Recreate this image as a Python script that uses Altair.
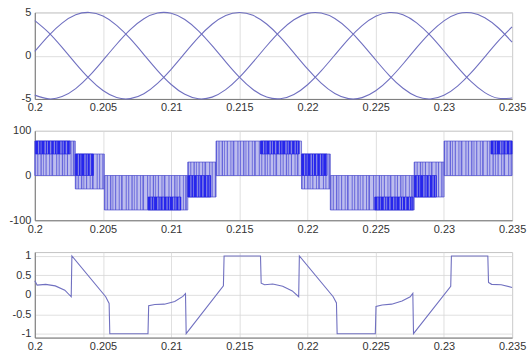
import altair as alt
import pandas as pd

# ---------------- data ----------------
x_ticks = [0.2, 0.205, 0.21, 0.215, 0.22, 0.225, 0.23, 0.235]

# panel 1: three phase voltages, sampled every 1 ms
time_1 = [0.200, 0.201, 0.202, 0.203, 0.204, 0.205, 0.206, 0.207, 0.208, 0.209,
          0.210, 0.211, 0.212, 0.213, 0.214, 0.215, 0.216, 0.217, 0.218, 0.219,
          0.220, 0.221, 0.222, 0.223, 0.224, 0.225, 0.226, 0.227, 0.228, 0.229,
          0.230, 0.231, 0.232, 0.233, 0.234, 0.235]
phase_a = [0.50, 2.30, 3.77, 4.72, 5.00, 4.58, 3.51, 1.96, 0.13, -1.72,
           -3.33, -4.47, -4.98, -4.79, -3.93, -2.52, -0.75, 1.12, 2.84, 4.15,
           4.89, 4.93, 4.29, 3.04, 1.37, -0.50, -2.30, -3.77, -4.72, -5.00,
           -4.58, -3.51, -1.96, -0.13, 1.72, 3.33]
phase_b = [-4.56, -4.99, -4.73, -3.80, -2.34, -0.54, 1.32, 3.01, 4.27, 4.93,
           4.90, 4.18, 2.87, 1.16, -0.71, -2.48, -3.91, -4.78, -4.98, -4.49,
           -3.36, -1.76, 0.08, 1.92, 3.48, 4.56, 4.99, 4.73, 3.80, 2.34,
           0.54, -1.32, -3.01, -4.27, -4.93, -4.90]
phase_c = [4.06, 2.70, 0.96, -0.92, -2.66, -4.03, -4.84, -4.96, -4.39, -3.20,
           -1.57, 0.29, 2.11, 3.63, 4.64, 5.00, 4.66, 3.66, 2.15, 0.33,
           -1.53, -3.17, -4.37, -4.96, -4.85, -4.06, -2.70, -0.96, 0.92, 2.66,
           4.03, 4.84, 4.96, 4.39, 3.20, 1.57]

# panel 2: multilevel PWM output, envelope of each switching band
band_start = [0.2000, 0.20297, 0.20510, 0.21122, 0.21329, 0.21956, 0.22167, 0.22782, 0.23001]
band_end = [0.20297, 0.20510, 0.21122, 0.21329, 0.21956, 0.22167, 0.22782, 0.23001, 0.2350]
band_low = [0, -30, -77, -48, 0, -30, -77, -48, 0]
band_high = [77, 48, 0, 30, 77, 48, 0, 30, 77]

# densely switching parts of the bands
dense_start = [0.20005, 0.20297, 0.20831, 0.21122, 0.21655, 0.21956, 0.22493, 0.22782, 0.23345]
dense_end = [0.2026, 0.2043, 0.21071, 0.2129, 0.21939, 0.22143, 0.22775, 0.22945, 0.2350]
dense_low = [48, 0, -77, -48, 48, 0, -77, -48, 48]
dense_high = [77, 48, -48, 0, 77, 48, -48, 0, 77]

# panel 3: normalised signal
time_3 = [0.2000, 0.20017, 0.2008, 0.2015, 0.2022, 0.20267, 0.20272, 0.2052, 0.20545, 0.2055,
          0.2083, 0.20835, 0.2088, 0.2095, 0.21026, 0.21086, 0.21105, 0.2111, 0.21383, 0.21388,
          0.21655, 0.2166, 0.21685, 0.21745, 0.21818, 0.21888, 0.21935, 0.2194, 0.22188, 0.22212,
          0.22217, 0.22497, 0.22502, 0.22547, 0.22617, 0.22693, 0.22753, 0.22772, 0.22777, 0.2305,
          0.23055, 0.23322, 0.23327, 0.2335, 0.2342, 0.2350]
signal_3 = [0.36, 0.25, 0.27, 0.23, 0.12, -0.05, 1.0, -0.05, -0.22, -1.0,
            -1.0, -0.28, -0.25, -0.24, -0.17, -0.04, 0.03, -1.0, 0.23, 1.0,
            1.0, 0.3, 0.26, 0.28, 0.22, 0.1, -0.05, 1.0, -0.05, -0.21,
            -1.0, -1.0, -0.3, -0.26, -0.24, -0.16, -0.05, 0.04, -1.0, 0.22,
            1.0, 1.0, 0.32, 0.27, 0.26, 0.19]

# ---------------- styling ----------------
LINE = "#7070c0"
FONT = "Liberation Sans"
W = 480


def x_enc(field):
    return alt.X(field, type="quantitative",
                 scale=alt.Scale(domain=[0.2, 0.235], nice=False, zero=False),
                 axis=alt.Axis(values=x_ticks, labelExpr="'' + datum.value", title=None,
                               labelFlush=False, labelOverlap=False, labelPadding=3))


def y_axis(vals):
    return alt.Axis(values=vals, labelExpr="'' + datum.value", title=None,
                    labelPadding=4, labelOverlap=False)


# panel 1
df1 = pd.concat([
    pd.DataFrame({"t": time_1, "v": phase_a, "phase": "a"}),
    pd.DataFrame({"t": time_1, "v": phase_b, "phase": "b"}),
    pd.DataFrame({"t": time_1, "v": phase_c, "phase": "c"}),
])
p1 = alt.Chart(df1).mark_line(color=LINE, strokeWidth=1.1, interpolate="natural").encode(
    x=x_enc("t"),
    y=alt.Y("v:Q", scale=alt.Scale(domain=[-5, 5], nice=False, zero=False),
            axis=y_axis([-5, 0, 5])),
    detail="phase:N",
).properties(width=W, height=87)

# panel 2
bands = pd.DataFrame({"t0": band_start, "t1": band_end, "lo": band_low, "hi": band_high})
dense = pd.DataFrame({"t0": dense_start, "t1": dense_end, "lo": dense_low, "hi": dense_high})
y2_scale = alt.Scale(domain=[-100, 100], nice=False, zero=False)
w_scale = alt.Scale(domain=[0, 200], range=[0, 90])

band_rect = alt.Chart(bands).mark_rect(fill="#bdbdee", stroke="#5c5cd0", strokeWidth=0.8).encode(
    x=x_enc("t0"), x2="t1",
    y=alt.Y("lo:Q", scale=y2_scale, axis=y_axis([-100, -50, 0, 50, 100])), y2="hi",
)
band_stripes = alt.Chart(bands).transform_calculate(
    mid="(datum.lo + datum.hi) / 2", span="datum.hi - datum.lo"
).mark_rule(color="#4a4ad4", opacity=0.75,
            strokeDash=[1, 1.5, 1, 2.2, 1.3, 1.2, 0.8, 1.8, 1.1, 2.6, 0.9, 1.4, 1.6, 3.1]).encode(
    x="t0:Q", x2="t1", y="mid:Q",
    strokeWidth=alt.StrokeWidth("span:Q", scale=w_scale, legend=None),
)
dense_rect = alt.Chart(dense).mark_rect(fill="#8686e6", stroke="#3a3ad8", strokeWidth=0.8).encode(
    x="t0:Q", x2="t1", y="lo:Q", y2="hi",
)
dense_stripes = alt.Chart(dense).transform_calculate(
    mid="(datum.lo + datum.hi) / 2", span="datum.hi - datum.lo"
).mark_rule(color="#1c1cec", opacity=0.9,
            strokeDash=[2.5, 1.2, 1.5, 0.8, 3, 1.5, 1, 1, 2, 1.4]).encode(
    x="t0:Q", x2="t1", y="mid:Q",
    strokeWidth=alt.StrokeWidth("span:Q", scale=w_scale, legend=None),
)
p2 = alt.layer(band_rect, band_stripes, dense_rect, dense_stripes).properties(width=W, height=90)

# panel 3
df3 = pd.DataFrame({"t": time_3, "v": signal_3})
p3 = alt.Chart(df3).mark_line(color=LINE, strokeWidth=1.1).encode(
    x=x_enc("t"),
    y=alt.Y("v:Q", scale=alt.Scale(domain=[-1.1, 1.1], nice=False, zero=False),
            axis=y_axis([-1, -0.5, 0, 0.5, 1])),
).properties(width=W, height=86)

chart = alt.vconcat(p1, p2, p3, spacing=32, bounds="flush").properties(
    padding={"left": 8, "top": 4.5, "right": 0, "bottom": 0},
    background="white",
).configure_view(
    stroke="#c4c4c4", strokeWidth=1
).configure_axis(
    labelFont=FONT, labelFontSize=11, labelColor="#333333",
    gridColor="#d6d6d6", gridWidth=0.8, ticks=False,
    domainColor="#7a7a7a", domainWidth=1,
)

chart.save("out.html", embed_options={"renderer": "svg", "actions": False})
